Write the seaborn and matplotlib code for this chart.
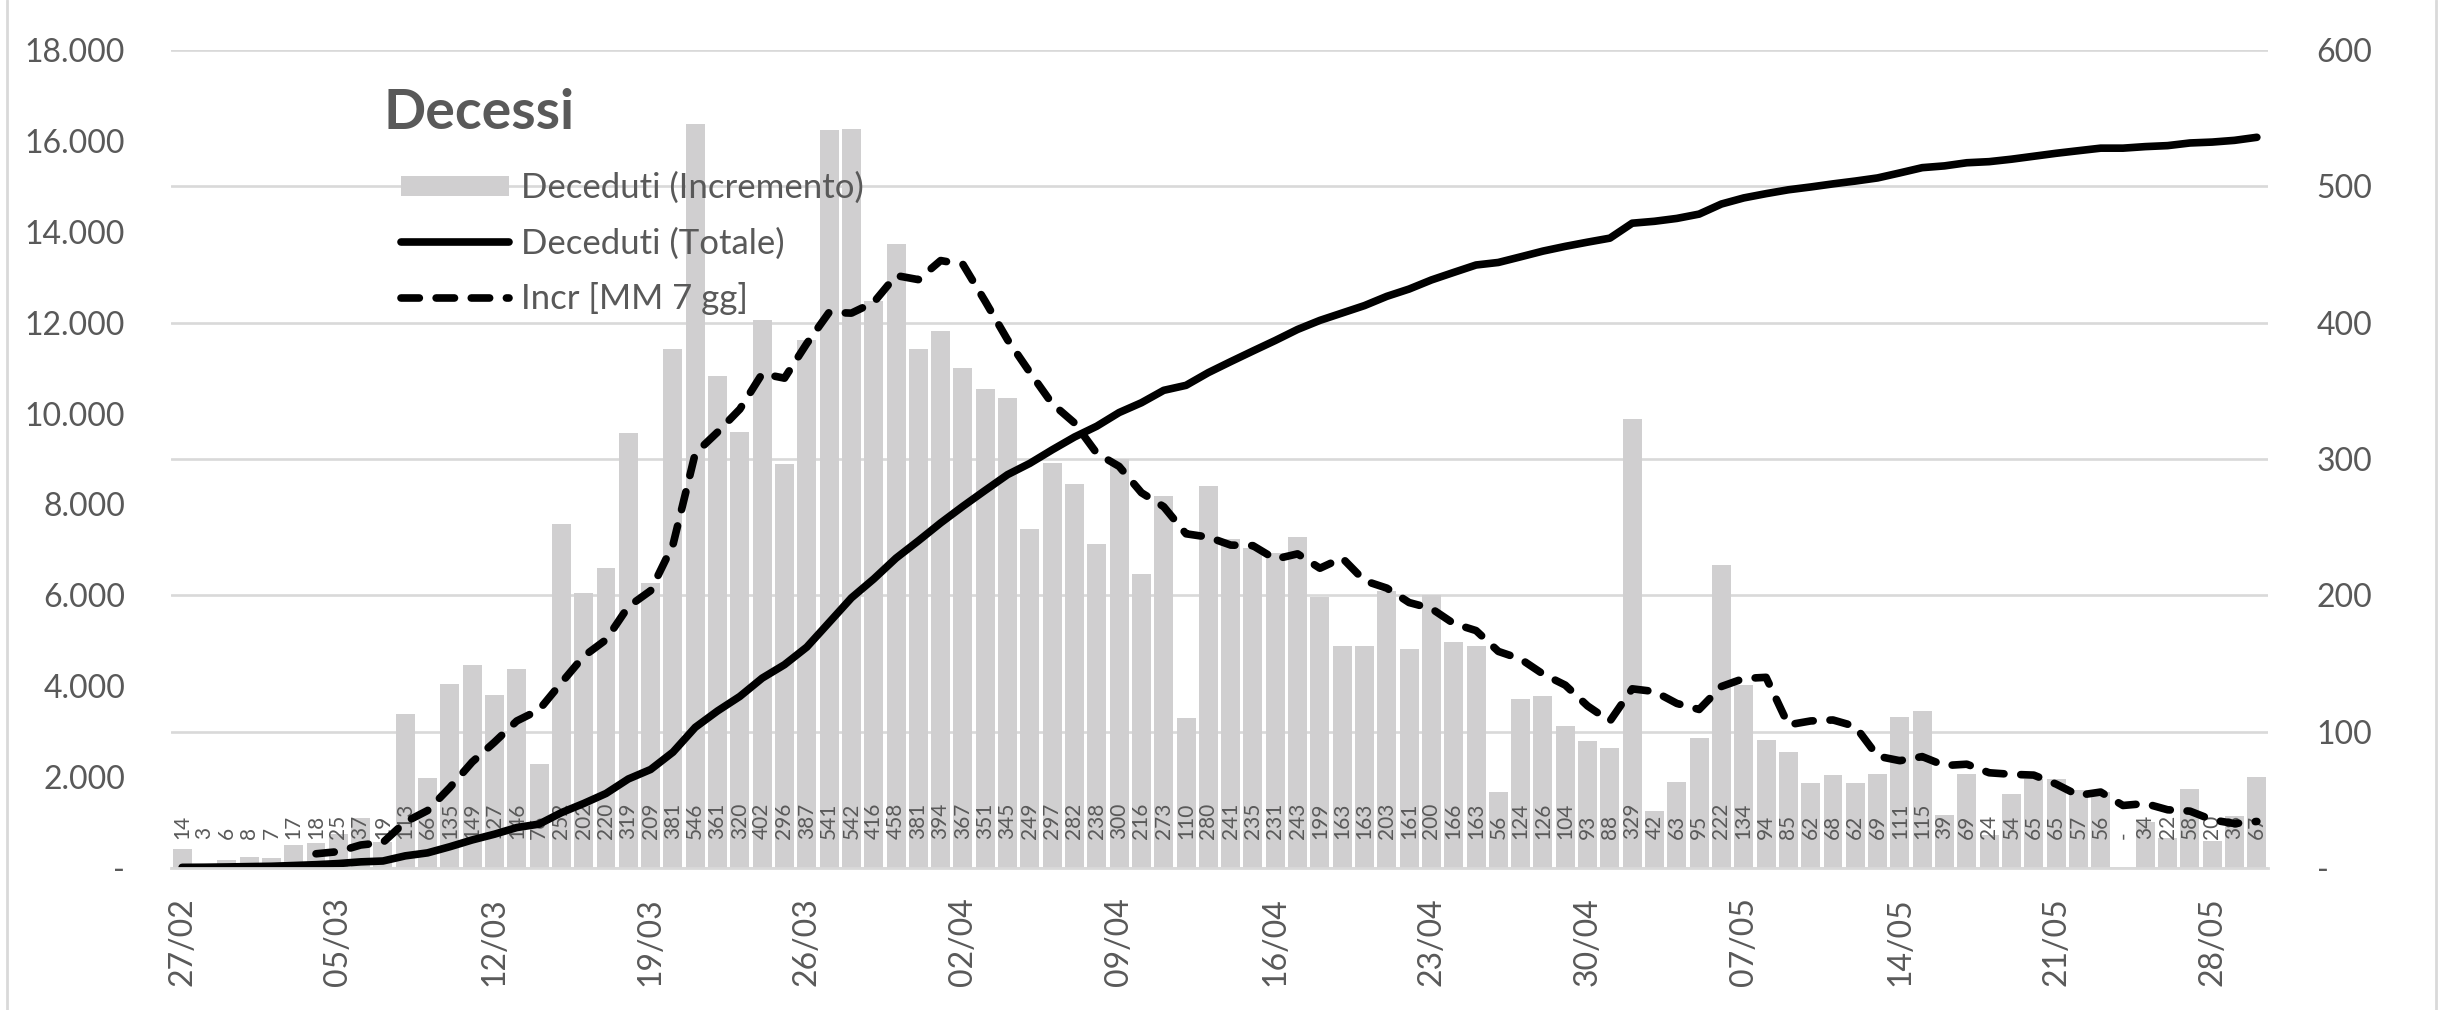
import numpy as np
import pandas as pd
import matplotlib
matplotlib.use("Agg")
import matplotlib.pyplot as plt
import seaborn as sns
from matplotlib.patches import Patch
from matplotlib.lines import Line2D

# ---------------- data ----------------
dates = pd.date_range("2020-02-27", "2020-05-30", freq="D").strftime("%d/%m").tolist()

incremento = [14, 3, 6, 8, 7, 17, 18, 25, 37, 19, 113, 66, 135, 149, 127, 146, 76, 252, 202, 220,
              319, 209, 381, 546, 361, 320, 402, 296, 387, 541, 542, 416, 458, 381, 394, 367, 351,
              345, 249, 297, 282, 238, 300, 216, 273, 110, 280, 241, 235, 231, 243, 199, 163, 163,
              203, 161, 200, 166, 163, 56, 124, 126, 104, 93, 88, 329, 42, 63, 95, 222, 134, 94,
              85, 62, 68, 62, 69, 111, 115, 39, 69, 24, 54, 65, 65, 57, 56, 0, 34, 22, 58, 20, 38, 67]

totale = [14, 17, 23, 31, 38, 55, 73, 98, 135, 154, 267, 333, 468, 617, 744, 890, 966, 1218, 1420,
          1640, 1959, 2168, 2549, 3095, 3456, 3776, 4178, 4474, 4861, 5402, 5944, 6360, 6818, 7199,
          7593, 7960, 8311, 8656, 8905, 9202, 9484, 9722, 10022, 10238, 10511, 10621, 10901, 11142,
          11377, 11608, 11851, 12050, 12213, 12376, 12579, 12740, 12940, 13106, 13269, 13325, 13449,
          13575, 13679, 13772, 13860, 14189, 14231, 14294, 14389, 14611, 14745, 14839, 14924, 14986,
          15054, 15116, 15185, 15296, 15411, 15450, 15519, 15543, 15597, 15662, 15727, 15784, 15840,
          15840, 15874, 15896, 15954, 15974, 16012, 16079]

media_mobile = [None, None, None, None, None, None,
                10.43, 12.0, 16.86, 18.71, 33.71, 42.14, 59.0, 77.71, 92.29, 107.86, 116.0, 135.86,
                155.29, 167.43, 191.71, 203.43, 237.0, 304.14, 319.71, 336.57, 362.57, 359.29,
                384.71, 407.57, 407.0, 414.86, 434.57, 431.57, 445.57, 442.71, 415.57, 387.43,
                363.57, 340.57, 326.43, 304.14, 294.57, 275.29, 265.0, 245.14, 242.71, 236.86,
                236.43, 226.57, 230.43, 219.86, 227.43, 210.71, 205.29, 194.71, 190.29, 179.29,
                174.14, 158.86, 153.29, 142.29, 134.14, 118.86, 107.71, 131.43, 129.43, 120.71,
                116.29, 133.14, 139.0, 139.86, 105.0, 107.86, 108.57, 103.86, 82.0, 78.71, 81.71,
                75.14, 76.14, 69.86, 68.71, 68.14, 61.57, 53.29, 55.71, 45.86, 47.29, 42.71,
                41.71, 35.29, 32.57, 34.14]

left_ticks = [0, 2000, 4000, 6000, 8000, 10000, 12000, 14000, 16000, 18000]
right_ticks = [0, 100, 200, 300, 400, 500, 600]

label_incr = "Deceduti (Incremento)"
label_tot = "Deceduti (Totale)"
label_mm = "Incr [MM 7 gg]"
title = "Decessi"

# ---------------- style ----------------
sns.set_style("white")
plt.rcParams["font.family"] = ["Lato", "DejaVu Sans"]
TXT = "#595959"
BAR = "#d0cfd0"
GRID = "#d9d9d9"
DASH = (2.4, 2.2)

df = pd.DataFrame({"data": dates, "pos": np.arange(len(dates)),
                   "incr": incremento, "tot": totale,
                   "mm": pd.Series(media_mobile, dtype="float")})

W, H = 2445, 1010
fig = plt.figure(figsize=(W / 100, H / 100), dpi=100)
ax = fig.add_axes([171 / W, 142 / H, 2097 / W, 818 / H])
ax2 = ax.twinx()

# bars (secondary axis)
sns.barplot(data=df, x="data", y="incr", ax=ax2, color=BAR, width=0.85,
            saturation=1, edgecolor="none", linewidth=0, legend=False)

# bar value labels
for i, v in enumerate(incremento):
    ax2.annotate("-" if v == 0 else str(v), xy=(i, 0), xytext=(0, 21),
                 textcoords="offset points", rotation=90, ha="center", va="bottom",
                 fontsize=15, color=TXT, zorder=3)

# moving average (secondary axis)
sns.lineplot(data=df, x="pos", y="mm", ax=ax2, color="black", linewidth=5.5,
             legend=False, zorder=4)
mm_line = ax2.lines[-1]
mm_line.set_dashes(DASH)
mm_line.set_dash_capstyle("round")

# total (primary axis)
sns.lineplot(data=df, x="pos", y="tot", ax=ax, color="black", linewidth=5.5, legend=False)
tot_line = ax.lines[-1]
tot_line.set_solid_capstyle("round")
tot_line.set_solid_joinstyle("round")

ax.set_zorder(2)
ax2.set_zorder(1)
ax.patch.set_visible(False)

# limits
ax.set_xlim(-0.5, len(dates) - 0.5)
ax.set_ylim(0, 18000)
ax2.set_ylim(0, 600)

# y ticks
def fmt_left(v):
    return "-" if v == 0 else f"{v:,.0f}".replace(",", ".")

ax.set_yticks(left_ticks)
ax.set_yticklabels([fmt_left(v) for v in left_ticks])
ax2.set_yticks(right_ticks)
ax2.set_yticklabels(["-" if v == 0 else str(v) for v in right_ticks])
ax.tick_params(axis="y", length=0, pad=33, labelsize=23, labelcolor=TXT)
ax2.tick_params(axis="y", length=0, pad=35, labelsize=23, labelcolor=TXT)

# grid on secondary (coincides with primary)
ax.grid(False)
ax2.grid(False)
ax2.yaxis.grid(True, color=GRID, linewidth=1.9)
ax2.set_axisbelow(True)

# x ticks: boundaries every 7 days (major), labels on the dates (minor)
n = len(dates)
ax.set_xticks(np.arange(-0.5, n - 0.5, 7))
ax.set_xticklabels([])
ax.set_xticks(np.arange(0, n, 7), minor=True)
ax.set_xticklabels([dates[i] for i in range(0, n, 7)], minor=True, rotation=90)
ax.tick_params(axis="x", which="major", length=12, width=2, color=GRID, direction="out")
ax.tick_params(axis="x", which="minor", length=0, pad=21, labelsize=23, labelcolor=TXT)
for a in (ax, ax2):
    a.set_xlabel("")
    a.set_ylabel("")
    for s in ("left", "right", "top"):
        a.spines[s].set_visible(False)
ax2.spines["bottom"].set_visible(False)
ax.spines["bottom"].set_color(GRID)
ax.spines["bottom"].set_linewidth(2)

# legend
h_bar = Patch(facecolor=BAR, edgecolor="none")
h_tot = Line2D([], [], color="black", linewidth=5.5, solid_capstyle="round")
h_mm = Line2D([], [], color="black", linewidth=5.5, dashes=DASH, dash_capstyle="round")
leg = ax.legend([h_bar, h_tot, h_mm], [label_incr, label_tot, label_mm],
                loc="upper left", bbox_to_anchor=(401 / W, 1 - 172 / H),
                bbox_transform=fig.transFigure, frameon=False, fontsize=25,
                handlelength=3.1, handleheight=0.5, handletextpad=0.35, labelspacing=0.66,
                borderpad=0, borderaxespad=0)
for t in leg.get_texts():
    t.set_color(TXT)

fig.text(383 / W, 1 - 129 / H, title, fontsize=40, fontweight="bold", color=TXT,
         ha="left", va="baseline")

# chart border (vertical edges)
fig.add_artist(Line2D([7 / W, 7 / W], [0, 1], color=GRID, linewidth=2, transform=fig.transFigure))
fig.add_artist(Line2D([2436 / W, 2436 / W], [0, 1], color=GRID, linewidth=2, transform=fig.transFigure))

fig.savefig("out.png", dpi=100, facecolor="white")
